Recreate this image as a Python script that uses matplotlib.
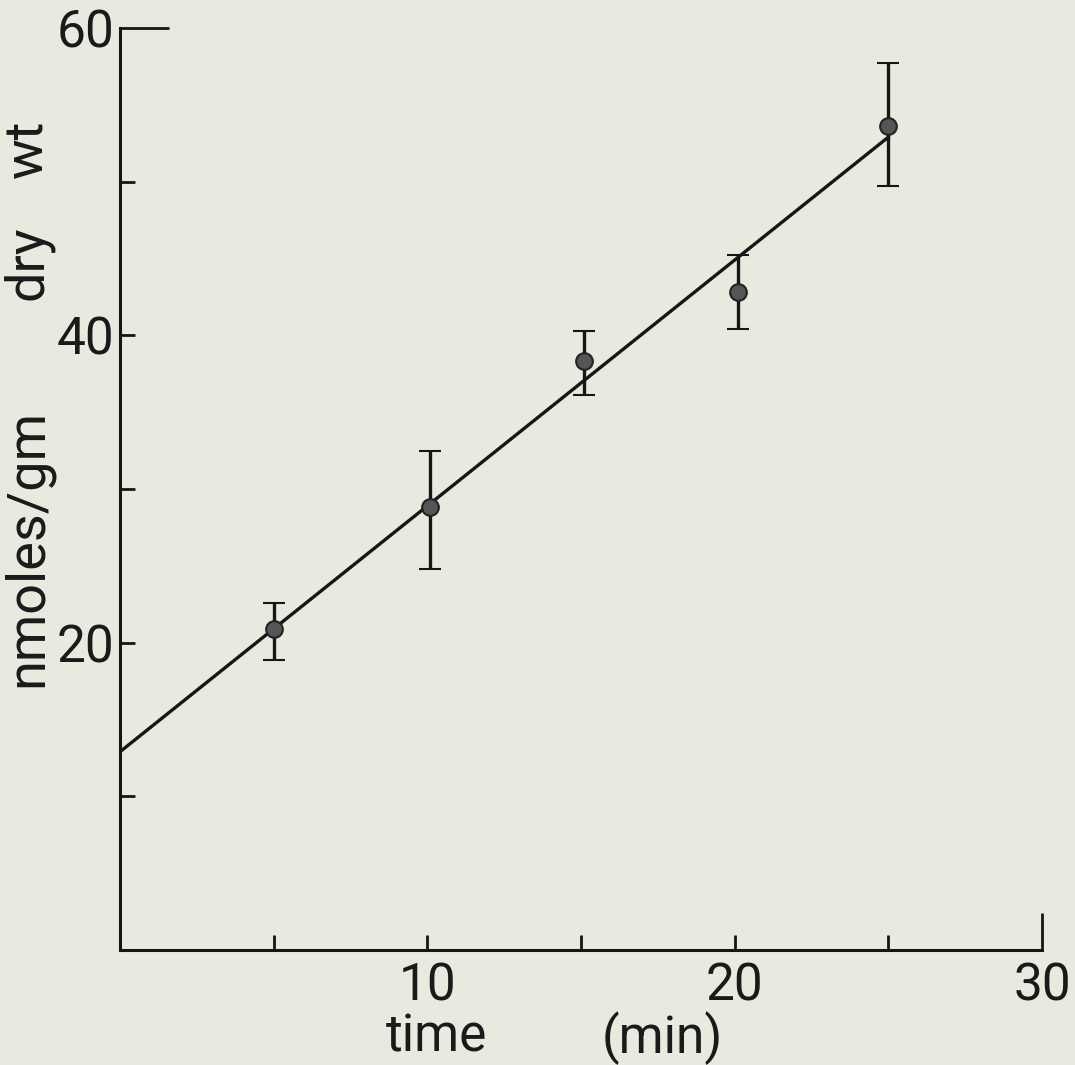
import numpy as np
import matplotlib.pyplot as plt

plt.rcParams['font.family'] = ['Roboto', 'DejaVu Sans']

# Data
time_min = [5.0, 10.1, 15.1, 20.1, 25.0]
nmoles = [20.9, 28.8, 38.3, 42.8, 53.6]
err_up = [1.7, 3.7, 2.0, 2.4, 4.1]
err_down = [2.0, 4.0, 2.2, 2.4, 3.9]

# fitted line
fit_x = [0, 25.0]
fit_y = [12.9, 52.9]

x_ticks = [5, 10, 15, 20, 25, 30]
x_labels = ['', '10', '', '20', '', '30']
y_ticks = [10, 20, 30, 40, 50, 60]
y_labels = ['', '20', '', '40', '', '60']

W, H = 1075, 1065
bg = '#e9eadf'
ink = '#161616'
txt = '#1a1a1a'
fig = plt.figure(figsize=(W/100, H/100), dpi=100, facecolor=bg)
ax = fig.add_axes([120/W, 115/H, 922/W, 922/H])
ax.set_facecolor(bg)

ax.plot(fit_x, fit_y, color=ink, lw=2.4)
ax.errorbar(time_min, nmoles, yerr=[err_down, err_up], fmt='o',
            color=ink, ecolor=ink, elinewidth=2.4,
            capsize=8, capthick=2.4, markersize=12,
            markerfacecolor='#555555', markeredgecolor='#222222',
            markeredgewidth=1.5)

ax.set_xlim(0, 30)
ax.set_ylim(0, 60)
ax.spines['top'].set_visible(False)
ax.spines['right'].set_visible(False)
for s in ['left', 'bottom']:
    ax.spines[s].set_linewidth(2.2)
    ax.spines[s].set_color(ink)

ax.set_xticks(x_ticks)
ax.set_xticklabels(x_labels)
ax.set_yticks(y_ticks)
ax.set_yticklabels(y_labels)
ax.tick_params(axis='both', direction='in', length=11, width=2,
               color=ink, labelsize=37, labelcolor=txt)
ax.tick_params(axis='x', pad=8)
ax.tick_params(axis='y', pad=4)
# longer end ticks
ax.xaxis.get_major_ticks()[-1].tick1line.set_markersize(27)
ax.yaxis.get_major_ticks()[-1].tick1line.set_markersize(35)

# y label, spread out like the original lettering
for word, yc in [('nmoles/gm', 548), ('dry', 263), ('wt', 149)]:
    fig.text(28/W, 1 - yc/H, word, rotation=90, ha='center', va='center',
             fontsize=39, color=txt)

# x label
for word, xc in [('time', 437), ('(min)', 662)]:
    fig.text(xc/W, 1 - 1038/H, word, ha='center', va='center',
             fontsize=37, color=txt)

fig.savefig('out.png', dpi=100, facecolor=bg)
